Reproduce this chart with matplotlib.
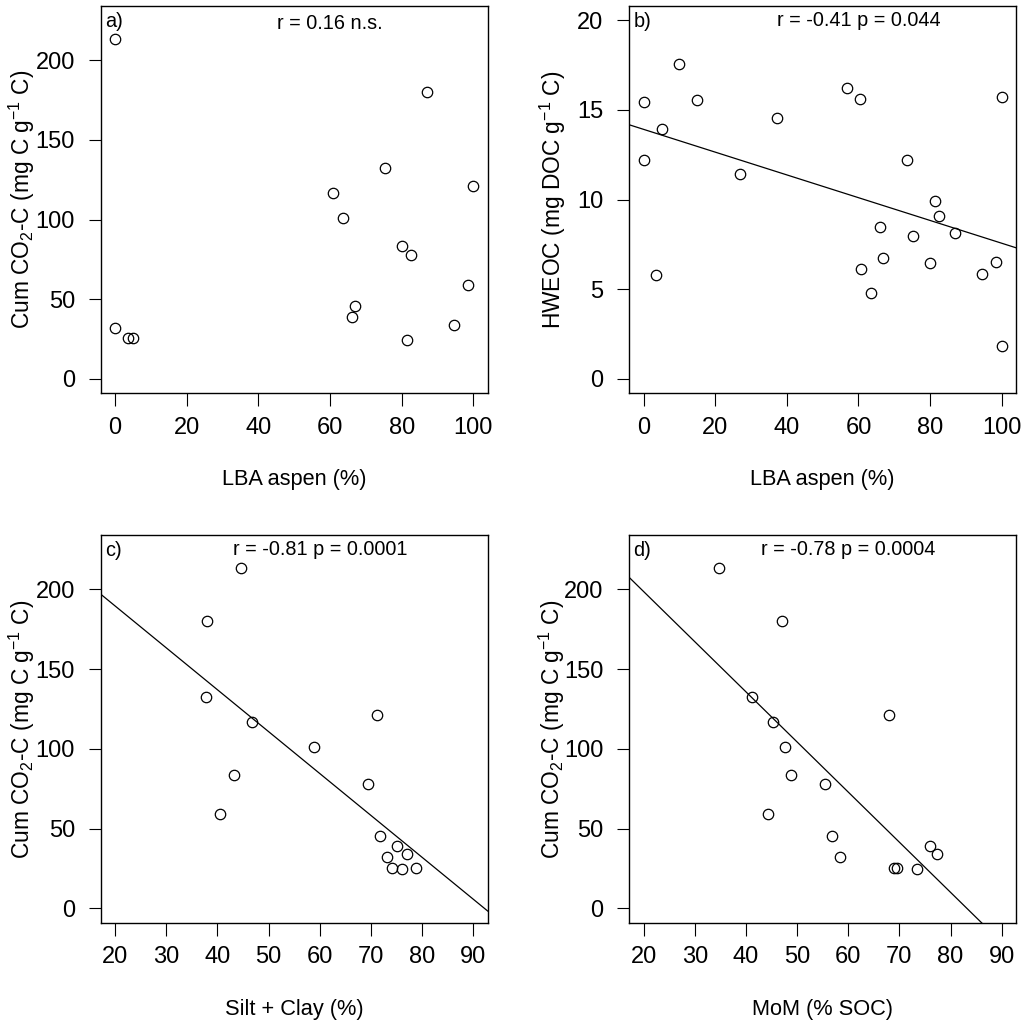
import matplotlib
matplotlib.use("Agg")
import matplotlib.pyplot as plt
import numpy as np

plt.rcParams['font.family'] = ['Liberation Sans', 'DejaVu Sans']
plt.rcParams['mathtext.fontset'] = 'custom'
plt.rcParams['mathtext.rm'] = 'Liberation Sans'
plt.rcParams['mathtext.it'] = 'Liberation Sans:italic'

# ---- data ----
# Panel a: LBA aspen (%) vs Cum CO2-C
a_x = [0, 0, 3.7, 5.0, 60.9, 63.5, 66.0, 67.0, 75.3, 87.0, 80.0, 82.5, 81.5, 94.6, 98.4, 100]
a_y = [213.2, 32.0, 25.5, 25.5, 116.4, 101.1, 38.7, 45.6, 132.5, 179.9, 83.4, 77.5, 24.5, 34.1, 58.7, 121.2]

# Panel b: LBA aspen (%) vs HWEOC
b_x = [0, 0, 3.5, 5.0, 10.0, 15.0, 26.8, 37.3, 56.7, 60.4, 60.8, 63.4, 65.9, 66.8,
       73.5, 75.3, 79.85, 81.5, 82.45, 86.9, 94.6, 98.4, 100, 100]
b_y = [15.47, 12.19, 5.79, 13.95, 17.59, 15.57, 11.43, 14.55, 16.22, 15.64, 6.14, 4.79, 8.48, 6.72,
       12.19, 8.0, 6.46, 9.93, 9.07, 8.16, 5.88, 6.55, 15.71, 1.86]
b_line = (13.92, -0.0635)  # intercept, slope

# Panel c: Silt + Clay (%) vs Cum CO2-C
c_x = [44.7, 37.9, 37.7, 46.8, 71.2, 58.8, 43.2, 69.4, 40.5, 71.75, 75.0, 77.1, 73.2, 74.2, 76.0, 78.8]
c_y = [213.2, 180.0, 132.6, 116.5, 121.3, 101.3, 83.3, 77.7, 58.9, 45.5, 38.8, 34.2, 31.9, 25.5, 24.4, 25.5]
c_line = (242.1, -2.627)

# Panel d: MoM (% SOC) vs Cum CO2-C
d_x = [34.7, 47.1, 41.15, 45.3, 67.9, 47.7, 48.9, 55.55, 44.4, 56.8, 75.9, 77.35, 58.3, 69.0, 69.6, 73.5]
d_y = [213.2, 180.0, 132.6, 116.5, 121.3, 101.3, 83.3, 77.7, 58.9, 45.5, 38.8, 34.2, 31.9, 25.5, 25.5, 24.4]
d_line = (261.4, -3.142)

co2_label = 'Cum CO$_2$-C (mg C g$^{-1}$ C)'
hweoc_label = 'HWEOC (mg DOC g$^{-1}$ C)'

panels = [
    dict(x=a_x, y=a_y, line=None, letter='a)', stat='r = 0.16 n.s.', stat_xy=(60, 223),
         xlabel='LBA aspen (%)', ylabel=co2_label, xlim=(-4, 104), ylim=(-9, 234),
         xticks=[0, 20, 40, 60, 80, 100], yticks=[0, 50, 100, 150, 200],
         rect=[100.7, 6, 487.7, 393.3], ylab_px=22),
    dict(x=b_x, y=b_y, line=b_line, letter='b)', stat='r = -0.41 p = 0.044', stat_xy=(60, 20),
         xlabel='LBA aspen (%)', ylabel=hweoc_label, xlim=(-4, 104), ylim=(-0.8, 20.8),
         xticks=[0, 20, 40, 60, 80, 100], yticks=[0, 5, 10, 15, 20],
         rect=[629.3, 6, 1016, 393.3], ylab_px=553),
    dict(x=c_x, y=c_y, line=c_line, letter='c)', stat='r = -0.81 p = 0.0001', stat_xy=(60, 225),
         xlabel='Silt + Clay (%)', ylabel=co2_label, xlim=(17.2, 92.8), ylim=(-9, 234),
         xticks=[20, 30, 40, 50, 60, 70, 80, 90], yticks=[0, 50, 100, 150, 200],
         rect=[100.7, 535, 487.7, 922.7], ylab_px=22),
    dict(x=d_x, y=d_y, line=d_line, letter='d)', stat='r = -0.78 p = 0.0004', stat_xy=(60, 225),
         xlabel='MoM (% SOC)', ylabel=co2_label, xlim=(17.2, 92.8), ylim=(-9, 234),
         xticks=[20, 30, 40, 50, 60, 70, 80, 90], yticks=[0, 50, 100, 150, 200],
         rect=[629.3, 535, 1016, 922.7], ylab_px=552),
]

W, H = 1024, 1027
fig = plt.figure(figsize=(W / 100, H / 100), dpi=100)

for p in panels:
    l, t, r, b = p['rect']
    ax = fig.add_axes([l / W, 1 - b / H, (r - l) / W, (b - t) / H])
    ax.plot(p['x'], p['y'], linestyle='none', marker='o', markersize=7.5,
            markerfacecolor='none', markeredgecolor='black', markeredgewidth=0.9)
    if p['line'] is not None:
        xs = np.array(p['xlim'])
        ax.plot(xs, p['line'][0] + p['line'][1] * xs, color='black', lw=0.9)
    ax.set_xlim(p['xlim'])
    ax.set_ylim(p['ylim'])
    ax.set_xticks(p['xticks'])
    ax.set_yticks(p['yticks'])
    ax.tick_params(direction='out', length=9, width=0.8, labelsize=17)
    ax.tick_params(axis='x', pad=8)
    ax.tick_params(axis='y', pad=9.5)
    for s in ax.spines.values():
        s.set_linewidth(1.0)
    ax.text(p['stat_xy'][0], p['stat_xy'][1], p['stat'], ha='center', va='center', fontsize=14.3)
    ax.text(0.011, 1 - 15.7 / (b - t), p['letter'], transform=ax.transAxes,
            ha='left', va='center', fontsize=14.3)
    ax.text(0.5, -86.5 / (b - t), p['xlabel'], transform=ax.transAxes,
            ha='center', va='center', fontsize=15.7)
    ax.text((p['ylab_px'] - l) / (r - l), 0.5, p['ylabel'], transform=ax.transAxes,
            ha='center', va='center', rotation=90, fontsize=16.4)

fig.savefig('out.png', dpi=100)
